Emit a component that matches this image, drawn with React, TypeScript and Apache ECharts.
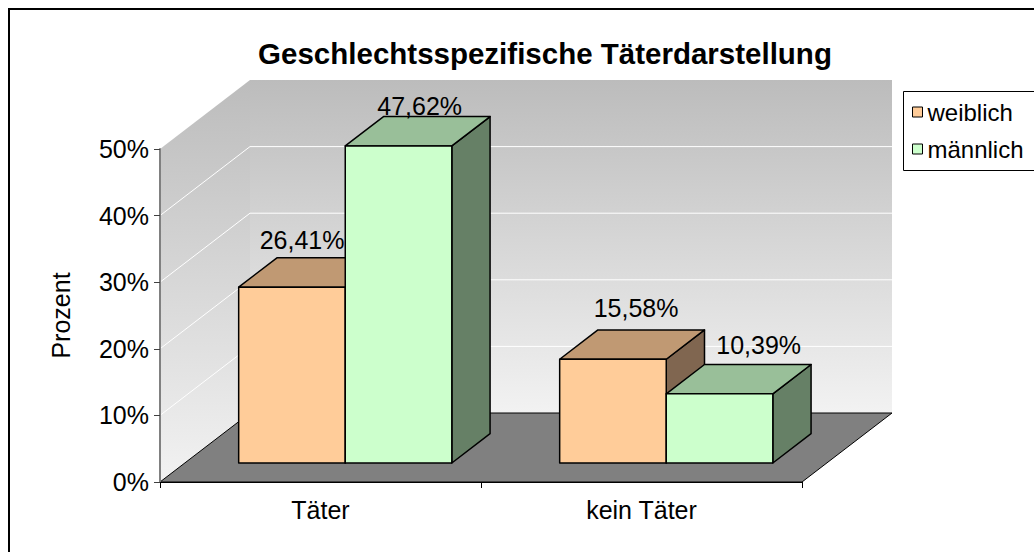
import React, { useEffect, useRef } from 'react';
import * as echarts from 'echarts';

const TITLE = 'Geschlechtsspezifische Täterdarstellung';
const CATEGORIES = ['Täter', 'kein Täter'];
const SERIES_NAMES = ['weiblich', 'männlich'];
const WEIBLICH = [26.41, 15.58];
const MAENNLICH = [47.62, 10.39];
const Y_TICKS = [0, 10, 20, 30, 40, 50];
const Y_NAME = 'Prozent';

// styling / projection constants
const FONT = 'Liberation Sans, Arial, sans-serif';
const DX = 90; // depth projection
const DY = -69;
const T0 = 0.275; // bar front depth fraction
const T1 = 0.7; // bar back depth fraction
const BAR_FRAC = 0.332; // bar width / category band
const FRONT = ['#FFCC99', '#CCFFCC'];
const TOP = ['#C09973', '#99BF99'];
const SIDE = ['#806650', '#668066'];
const LABEL_OFFSETS = [
  [[-9, -32], [4, -37]],
  [[2, -25], [20, -34]],
];

const fmt = (v: number) => v.toFixed(2).replace('.', ',') + '%';

export default function App() {
  const ref = useRef<HTMLDivElement>(null);
  useEffect(() => {
    document.body.style.margin = '0';
    const chart = echarts.init(ref.current!, null, { renderer: 'svg' });
    const yMin = Y_TICKS[0];
    const yMax = Y_TICKS[Y_TICKS.length - 1];

    const wallsRender = (params: any, api: any) => {
      const cs = params.coordSys;
      const L = cs.x;
      const R = cs.x + cs.width;
      const y0 = api.coord([0, yMin])[1];
      const yT = api.coord([0, yMax])[1];
      const grad = () =>
        new echarts.graphic.LinearGradient(0, 0, 0, 1, [
          { offset: 0, color: '#bcbcbc' },
          { offset: 1, color: '#f2f2f2' },
        ]);
      const children: any[] = [];
      children.push({
        type: 'polygon',
        shape: { points: [[L, yT], [L + DX, yT + DY], [L + DX, y0 + DY], [L, y0]] },
        style: { fill: grad(), stroke: 'none' },
      });
      children.push({
        type: 'rect',
        shape: { x: L + DX, y: yT + DY, width: R - L, height: y0 - yT },
        style: { fill: grad(), stroke: 'none' },
      });
      Y_TICKS.forEach((t) => {
        if (t === yMin || t === yMax) return;
        const y = api.coord([0, t])[1];
        children.push({
          type: 'line',
          shape: { x1: L, y1: y, x2: L + DX, y2: y + DY },
          style: { stroke: '#ffffff', lineWidth: 1 },
        });
        children.push({
          type: 'line',
          shape: { x1: L + DX, y1: y + DY, x2: R + DX, y2: y + DY },
          style: { stroke: '#ffffff', lineWidth: 1 },
        });
      });
      children.push({
        type: 'polygon',
        shape: { points: [[L, y0], [R, y0], [R + DX, y0 + DY], [L + DX, y0 + DY]] },
        style: { fill: '#808080', stroke: '#000', lineWidth: 1 },
      });
      return { type: 'group', children };
    };

    const barRender = (k: number) => (params: any, api: any) => {
      const i = api.value(0);
      const v = api.value(1);
      const [cx, yb0] = api.coord([i, 0]);
      const yt0 = api.coord([i, v])[1];
      const band = api.size([1, 0])[0];
      const bw = band * BAR_FRAC;
      const x0 = cx - bw + k * bw + DX * T0;
      const yb = yb0 + DY * T0;
      const yt = yt0 + DY * T0;
      const ox = DX * (T1 - T0);
      const oy = DY * (T1 - T0);
      const st = { stroke: '#000', lineWidth: 1.5, lineJoin: 'round' };
      const off = LABEL_OFFSETS[k][i];
      return {
        type: 'group',
        children: [
          {
            type: 'polygon',
            shape: { points: [[x0 + bw, yt], [x0 + bw + ox, yt + oy], [x0 + bw + ox, yb + oy], [x0 + bw, yb]] },
            style: { ...st, fill: SIDE[k] },
          },
          {
            type: 'polygon',
            shape: { points: [[x0, yt], [x0 + ox, yt + oy], [x0 + bw + ox, yt + oy], [x0 + bw, yt]] },
            style: { ...st, fill: TOP[k] },
          },
          {
            type: 'rect',
            shape: { x: x0, y: yt, width: bw, height: yb - yt },
            style: { ...st, fill: FRONT[k] },
          },
          {
            type: 'text',
            x: x0 + bw / 2 + ox / 2 + off[0],
            y: yt + oy / 2 + off[1],
            style: {
              text: fmt(v),
              fill: '#000',
              font: `25px ${FONT}`,
              align: 'center',
              verticalAlign: 'middle',
            },
            z2: 100,
          },
        ],
      };
    };

    const option: any = {
      animation: false,
      backgroundColor: '#ffffff',
      textStyle: { fontFamily: FONT },
      title: {
        text: TITLE,
        left: 540,
        top: 33,
        textAlign: 'center',
        textStyle: { fontFamily: FONT, fontSize: 29.5, fontWeight: 'bold', color: '#000' },
      },
      graphic: [
        {
          type: 'rect',
          shape: { x: 9, y: 9, width: 1100, height: 600 },
          style: { fill: 'none', stroke: '#000', lineWidth: 2 },
          z: 0,
        },
        {
          type: 'rect',
          shape: { x: 903.5, y: 91.5, width: 140, height: 79 },
          style: { fill: '#fff', stroke: '#000', lineWidth: 1 },
          z: 0,
        },
      ],
      legend: {
        orient: 'vertical',
        left: 912,
        top: 100,
        itemWidth: 10,
        itemHeight: 10,
        itemGap: 13,
        padding: 0,
        textStyle: { fontFamily: FONT, fontSize: 24, color: '#000', padding: [0, 0, 0, 0] },
        data: SERIES_NAMES.map((n, k) => ({
          name: n,
          icon: 'rect',
          itemStyle: { color: FRONT[k], borderColor: '#000', borderWidth: 1 },
        })),
        z: 10,
      },
      grid: { left: 160, right: 232, top: 149, bottom: 70 },
      xAxis: {
        type: 'category',
        data: CATEGORIES,
        z: 10,
        axisLine: { lineStyle: { color: '#000', width: 1 } },
        axisTick: { show: true, length: 6, lineStyle: { color: '#000' } },
        axisLabel: { fontFamily: FONT, fontSize: 25, color: '#000', margin: 15 },
        splitLine: { show: false },
      },
      yAxis: {
        type: 'value',
        min: yMin,
        max: yMax,
        interval: Y_TICKS[1] - Y_TICKS[0],
        z: 10,
        name: Y_NAME,
        nameLocation: 'middle',
        nameRotate: 90,
        nameGap: 87,
        nameTextStyle: { fontFamily: FONT, fontSize: 25, color: '#000' },
        axisLine: { show: true, lineStyle: { color: '#808080', width: 2 } },
        axisTick: { show: true, length: 6, lineStyle: { color: '#404040' } },
        axisLabel: { fontFamily: FONT, fontSize: 25, color: '#000', margin: 11, formatter: '{value}%' },
        splitLine: { show: false },
      },
      series: [
        {
          type: 'custom',
          name: 'walls',
          renderItem: wallsRender,
          data: [[0, 0]],
          clip: false,
          silent: true,
          z: 1,
        },
        ...[WEIBLICH, MAENNLICH].map((vals, k) => ({
          type: 'custom',
          name: SERIES_NAMES[k],
          renderItem: barRender(k),
          data: vals.map((v, i) => [i, v]),
          itemStyle: { color: FRONT[k] },
          clip: false,
          z: 2 + k,
        })),
      ],
    };
    chart.setOption(option);
    return () => chart.dispose();
  }, []);
  return <div ref={ref} style={{ width: 1034, height: 552 }} />;
}
